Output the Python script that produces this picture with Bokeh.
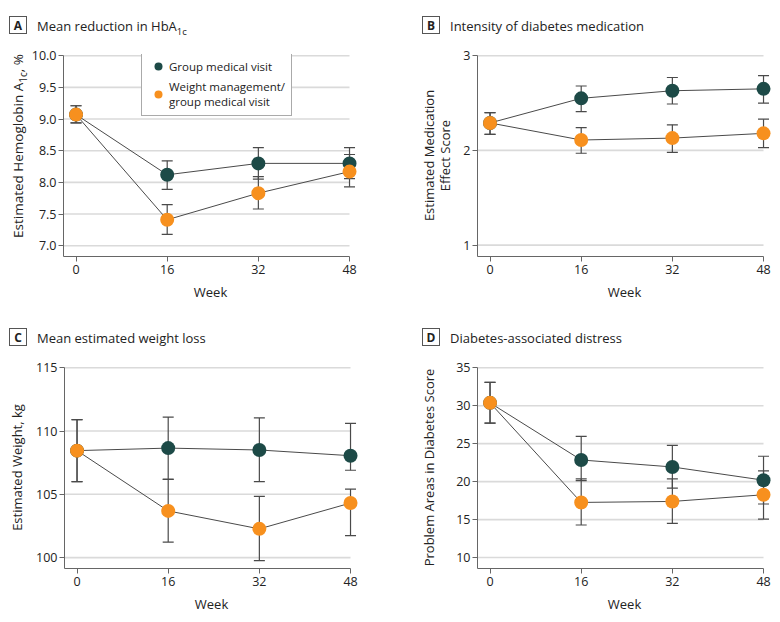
from bokeh.plotting import figure
from bokeh.models import Range1d, FixedTicker, Legend, LegendItem, NumeralTickFormatter, Div
from bokeh.layouts import row, column
from bokeh.embed import file_html
from bokeh.resources import INLINE

# ---------------- data ----------------
weeks = [0, 16, 32, 48]

a_gmv = [9.07, 8.12, 8.30, 8.30]
a_gmv_lo = [8.94, 7.89, 8.05, 8.06]
a_gmv_hi = [9.21, 8.34, 8.55, 8.55]
a_wm = [9.07, 7.41, 7.83, 8.17]
a_wm_lo = [8.94, 7.18, 7.58, 7.93]
a_wm_hi = [9.21, 7.65, 8.09, 8.44]
a_ticks = [7.0, 7.5, 8.0, 8.5, 9.0, 9.5, 10.0]

b_gmv = [2.29, 2.55, 2.63, 2.65]
b_gmv_lo = [2.17, 2.41, 2.49, 2.50]
b_gmv_hi = [2.40, 2.68, 2.77, 2.79]
b_wm = [2.29, 2.11, 2.13, 2.18]
b_wm_lo = [2.17, 1.97, 1.98, 2.03]
b_wm_hi = [2.40, 2.24, 2.27, 2.33]
b_ticks = [1, 2, 3]

c_gmv = [108.45, 108.65, 108.50, 108.05]
c_gmv_lo = [106.0, 106.17, 106.0, 106.9]
c_gmv_hi = [110.9, 111.1, 111.03, 110.6]
c_wm = [108.45, 103.69, 102.27, 104.31]
c_wm_lo = [106.0, 101.23, 99.76, 101.73]
c_wm_hi = [110.9, 106.2, 104.84, 105.41]
c_ticks = [100, 105, 110, 115]

d_gmv = [30.37, 22.85, 21.93, 20.19]
d_gmv_lo = [27.70, 20.14, 19.15, 17.05]
d_gmv_hi = [33.08, 25.95, 24.77, 23.34]
d_wm = [30.37, 17.26, 17.39, 18.27]
d_wm_lo = [27.70, 14.29, 14.50, 15.07]
d_wm_hi = [33.08, 20.36, 20.36, 21.41]
d_ticks = [10, 15, 20, 25, 30, 35]

series_names = ["Group medical visit", "Weight management/\ngroup medical visit"]
panel_titles = [("A", "Mean reduction in HbA", "1c"),
                ("B", "Intensity of diabetes medication", ""),
                ("C", "Mean estimated weight loss", ""),
                ("D", "Diabetes-associated distress", "")]
y_labels = [("Estimated Hemoglobin A", "1c", ", %"),
            "Estimated Medication\nEffect Score",
            "Estimated Weight, kg",
            "Problem Areas in Diabetes Score"]

# ---------------- style ----------------
FONT = "Open Sans"
DARK = "#1d4a47"
ORANGE = "#f7901e"
LINE = "#4a4a4a"
GRID = "#dadada"
AXIS = "#666666"
TXT = "#222222"

X_START, X_END = -2.2, 49.4
FW, FH = 294, 202
FIG_H = 263
YLAB_W = 28


def make_panel(ticks, y_start, fmt, gmv, gmv_lo, gmv_hi, wm, wm_lo, wm_hi,
               left, right, top, ylabel=None, ylab_standoff=8, legend=False):
    bottom = FIG_H - top - FH
    y_top = ticks[-1]
    span = y_top - y_start
    p = figure(frame_width=FW, frame_height=FH, output_backend="svg", toolbar_location=None,
               x_range=Range1d(X_START, X_END),
               y_range=Range1d(y_start, y_top + span * 0.006),
               min_border_left=left, min_border_right=right,
               min_border_top=top, min_border_bottom=bottom)
    p.outline_line_color = None
    p.grid.grid_line_color = None
    p.background_fill_color = "white"

    p.segment(x0=[X_START] * len(ticks), x1=[weeks[-1]] * len(ticks), y0=ticks, y1=ticks,
              line_color=GRID, line_width=1.6, level="underlay")

    p.xaxis.ticker = FixedTicker(ticks=weeks)
    p.yaxis.ticker = FixedTicker(ticks=ticks)
    if fmt:
        p.yaxis.formatter = NumeralTickFormatter(format=fmt)
    p.xaxis.bounds = (X_START, weeks[-1])
    p.yaxis.bounds = (y_start, y_top)
    for ax in (p.xaxis, p.yaxis):
        ax.axis_line_color = AXIS
        ax.major_tick_line_color = AXIS
        ax.major_tick_out = 5
        ax.major_tick_in = 0
        ax.minor_tick_line_color = None
        ax.major_label_text_font = FONT
        ax.major_label_text_font_size = "12.5px"
        ax.major_label_text_color = TXT
        ax.axis_label_text_font = FONT
        ax.axis_label_text_font_size = "13px"
        ax.axis_label_text_font_style = "normal"
        ax.axis_label_text_color = TXT
        ax.axis_label_text_line_height = 0.9
    p.xaxis.major_label_standoff = 3
    p.yaxis.major_label_standoff = 2
    p.xaxis.axis_label = "Week"
    p.xaxis.axis_label_standoff = 6
    if ylabel is not None:
        p.yaxis.axis_label = ylabel
        p.yaxis.axis_label_standoff = ylab_standoff

    for lo, hi in ((gmv_lo, gmv_hi), (wm_lo, wm_hi)):
        p.segment(x0=weeks, x1=weeks, y0=lo, y1=hi, line_color=LINE, line_width=1.2)
        p.scatter(x=weeks, y=lo, marker="dash", size=11, line_color=LINE, line_width=1.2)
        p.scatter(x=weeks, y=hi, marker="dash", size=11, line_color=LINE, line_width=1.2)

    p.line(x=weeks, y=gmv, line_color=LINE, line_width=1)
    p.line(x=weeks, y=wm, line_color=LINE, line_width=1)
    r1 = p.scatter(x=weeks, y=gmv, size=14, fill_color=DARK, line_color=None)
    r2 = p.scatter(x=weeks, y=wm, size=14, fill_color=ORANGE, line_color=None)

    if legend:
        lg = Legend(items=[LegendItem(label=series_names[0], renderers=[r1]),
                           LegendItem(label=series_names[1], renderers=[r2])],
                    location=(78, 140))
        lg.label_text_font = FONT
        lg.label_text_font_size = "11.5px"
        lg.label_text_color = TXT
        lg.label_text_line_height = 1.1
        lg.border_line_color = "#555555"
        lg.border_line_width = 1
        lg.background_fill_alpha = 1
        lg.padding = 6
        lg.spacing = 3
        lg.margin = 0
        lg.glyph_width = 20
        lg.glyph_height = 20
        lg.label_standoff = 1
        lg.label_height = 16
        p.add_layout(lg)
    return p


def title_div(spec, width, height, box_left, cy):
    letter, text, sub = spec
    sub_html = f'<sub style="font-size:9.5px;">{sub}</sub>' if sub else ""
    html = (
        f'<div style="position:relative;width:{width}px;height:{height}px;'
        f'font-family:\'{FONT}\';color:{TXT};">'
        f'<div style="position:absolute;left:{box_left}px;top:{cy - 10}px;width:18px;height:18px;'
        f'border:1px solid #555;font-weight:bold;font-size:12px;line-height:18px;'
        f'text-align:center;">{letter}</div>'
        f'<div style="position:absolute;left:{box_left + 28}px;top:{cy - 10}px;height:20px;'
        f'line-height:20px;font-size:13px;white-space:nowrap;">{text}{sub_html}</div>'
        f'</div>')
    return Div(text=html, width=width, height=height, margin=(0, 0, 0, 0))


def ylab_div(spec, left_x, bottom_y):
    main, sub, tail = spec
    html = (
        f'<div style="position:relative;width:{YLAB_W}px;height:{FIG_H}px;">'
        f'<div style="position:absolute;left:{left_x}px;top:{bottom_y}px;transform:rotate(-90deg);'
        f'transform-origin:0 0;white-space:nowrap;font-family:\'{FONT}\';font-size:13.5px;'
        f'line-height:16px;color:{TXT};">{main}<sub style="font-size:10px;">{sub}</sub>{tail}</div>'
        f'</div>')
    return Div(text=html, width=YLAB_W, height=FIG_H, margin=(0, 0, 0, 0))


pA = make_panel(a_ticks, 6.83, "0.0", a_gmv, a_gmv_lo, a_gmv_hi, a_wm, a_wm_lo, a_wm_hi,
                left=35, right=33, top=6, legend=True)
pB = make_panel(b_ticks, 0.88, None, b_gmv, b_gmv_lo, b_gmv_hi, b_wm, b_wm_lo, b_wm_hi,
                left=87, right=1, top=6, ylabel=y_labels[1], ylab_standoff=6)
pC = make_panel(c_ticks, 99.14, None, c_gmv, c_gmv_lo, c_gmv_hi, c_wm, c_wm_lo, c_wm_hi,
                left=64, right=32, top=15, ylabel=y_labels[2], ylab_standoff=7)
pD = make_panel(d_ticks, 8.56, None, d_gmv, d_gmv_lo, d_gmv_hi, d_wm, d_wm_lo, d_wm_hi,
                left=87, right=1, top=15, ylabel=y_labels[3], ylab_standoff=15)

layout = column(
    row(title_div(panel_titles[0], 390, 48, 9, 26), title_div(panel_titles[1], 382, 48, 32, 26)),
    row(ylab_div(y_labels[0], 10, 190), pA, pB),
    row(title_div(panel_titles[2], 390, 40, 9, 27), title_div(panel_titles[3], 382, 40, 32, 27)),
    row(pC, pD),
)
open("out.html", "w").write(file_html(layout, INLINE))
